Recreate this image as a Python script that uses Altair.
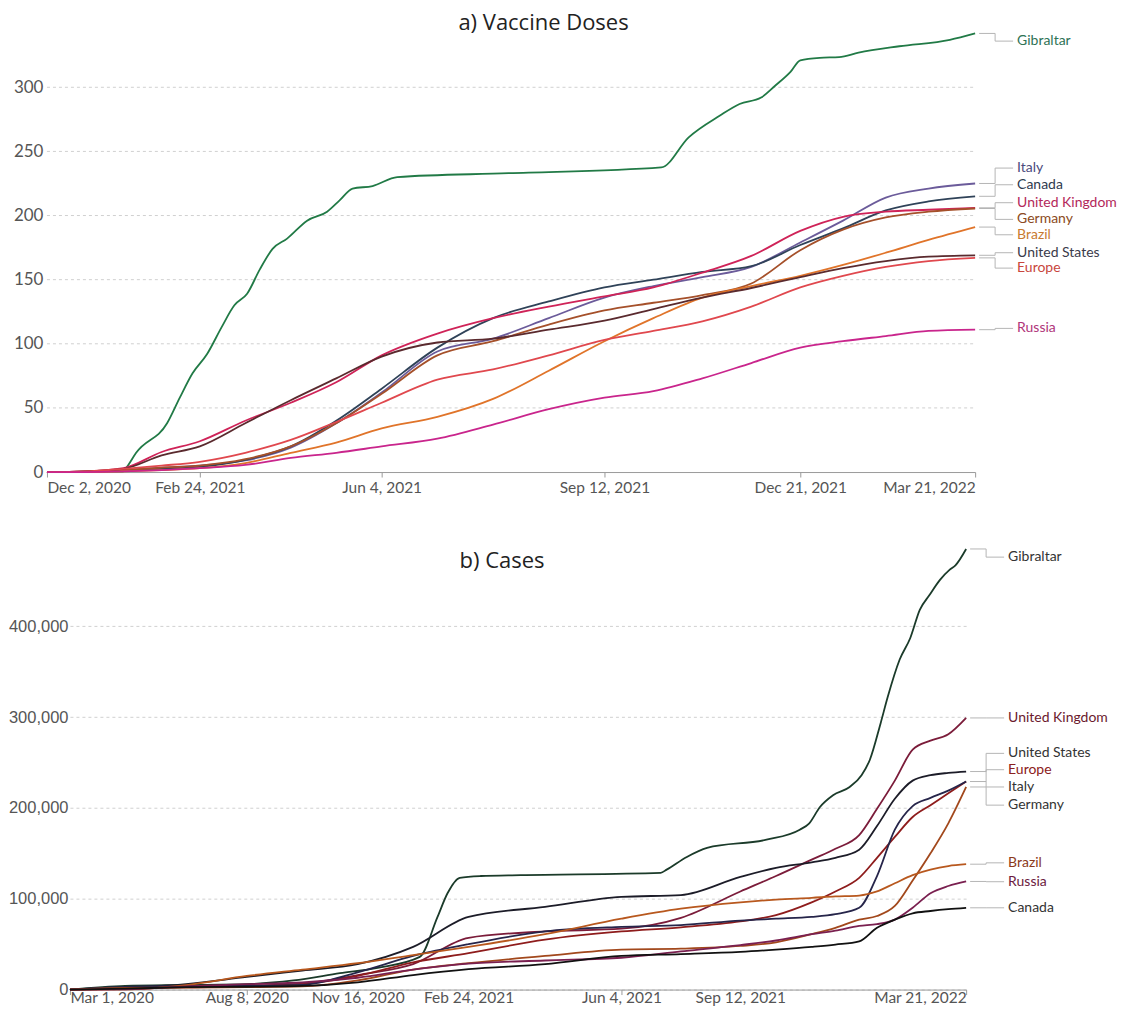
import altair as alt
import pandas as pd

# ---------------- a) Vaccine doses (per 100 people) ----------------
vax_ticks = ["2020-12-02", "2021-02-24", "2021-06-04", "2021-09-12", "2021-12-21", "2022-03-21"]
vax_y_ticks = [0, 50, 100, 150, 200, 250, 300]
vax_y_max = 342

vax_dates = ["2020-12-02", "2020-12-23", "2021-01-13", "2021-02-03", "2021-02-24", "2021-03-21",
             "2021-04-15", "2021-05-10", "2021-06-04", "2021-06-29", "2021-07-24", "2021-08-18",
             "2021-09-12", "2021-10-07", "2021-11-01", "2021-11-26", "2021-12-21", "2022-01-12",
             "2022-02-03", "2022-02-25", "2022-03-21"]
vax_italy = [0, 0, 1.5, 3.5, 5, 9, 19, 38, 62, 94, 104, 120, 136, 145, 152, 160, 179, 196, 214, 221, 225]
vax_canada = [0, 0.2, 1.2, 2.5, 4, 9.5, 20, 40, 65, 97, 120, 133, 144, 150, 156, 160.5, 177, 190, 204, 211, 215]
vax_uk = [0, 0.5, 3, 15.6, 24, 40, 54, 70, 91, 108, 120, 129, 137, 144, 155.5, 168.5, 188, 199, 203, 204.5, 206]
vax_germany = [0, 0.3, 1.5, 3.5, 5, 10, 20, 38, 61, 91, 102, 115, 126, 132, 138, 147, 173, 189, 198.5, 203, 205.5]
vax_brazil = [0, 0, 0.5, 1.5, 3, 7, 15, 23, 34, 43, 57, 79, 102, 120, 136, 145, 153, 161.5, 171, 181, 191]
vax_us = [0, 0.5, 2.5, 13, 20, 38, 56, 73, 90, 101, 104, 111, 118, 127, 136, 143.5, 152, 159, 164.5, 168, 169]
vax_europe = [0, 0.5, 2.5, 5, 8, 15, 25, 39, 54, 72, 80, 91, 103, 110, 117.5, 129, 144, 153, 160, 164.5, 167]
vax_russia = [0, 0, 0.5, 1.5, 3, 5.5, 11, 15, 20, 26, 37, 49, 58, 63, 73, 85, 97, 102, 106, 110, 111]

gib_vax_dates = ["2020-12-02", "2021-01-13", "2021-01-15", "2021-01-20", "2021-02-06", "2021-02-13",
                 "2021-02-20", "2021-02-28", "2021-03-08", "2021-03-15", "2021-03-22", "2021-03-29",
                 "2021-04-05", "2021-04-13", "2021-04-24", "2021-05-05", "2021-05-12", "2021-05-19",
                 "2021-05-30", "2021-06-11", "2021-07-31", "2021-10-11", "2021-10-25", "2021-11-10",
                 "2021-11-20", "2021-12-01", "2021-12-08", "2021-12-16", "2021-12-21", "2021-12-31",
                 "2022-01-10", "2022-01-20", "2022-02-10", "2022-03-08", "2022-03-21"]
gib_vax = [0, 0.5, 4, 15, 38, 58, 77, 92, 113, 130, 139, 158, 174, 182, 196, 203, 212, 221, 223, 230,
           233, 237.5, 261, 278, 287, 292, 301, 312, 321, 323, 323.5, 327, 332, 337, 342]

# ---------------- b) Cases (per million, values in thousands) ----------------
case_ticks = ["2020-03-01", "2020-08-08", "2020-11-16", "2021-02-24", "2021-06-04", "2021-09-12", "2022-03-21"]
case_y_ticks = [0, 100000, 200000, 300000, 400000]
case_y_max = 485000

case_dates = ["2020-03-01", "2020-04-20", "2020-06-14", "2020-08-08", "2020-09-27", "2020-11-16",
              "2021-01-05", "2021-02-24", "2021-04-15", "2021-06-04", "2021-07-24", "2021-09-12",
              "2021-10-12", "2021-11-11", "2021-12-01", "2021-12-21", "2022-01-05", "2022-01-20",
              "2022-02-04", "2022-02-19", "2022-03-06", "2022-03-21"]
case_uk = [0, 1.8, 4, 4.5, 6.5, 16, 28, 57, 64, 67, 79, 108, 125, 143, 155, 170, 199, 230, 264, 274, 281, 299]
case_us = [0, 2, 6, 14, 21, 28, 47, 80, 91, 102, 104, 124, 134, 140, 145, 154, 180, 210, 230, 236, 238.5, 240]
case_europe = [0, 1.3, 2.5, 3.5, 6, 15, 30, 40, 55, 64, 68.5, 75, 82, 96, 108, 123, 145, 168, 190, 203, 216, 229]
case_italy = [0.03, 3, 3.9, 4.1, 5.2, 19, 37, 50, 64, 69, 71, 76, 78, 80, 83, 90, 125, 176, 202, 211, 219, 229]
case_germany = [0, 1.7, 2.2, 2.6, 3.4, 10, 22, 29, 37, 44, 45, 48, 52, 61, 68, 77, 81, 92, 120, 150, 183, 223]
case_brazil = [0, 0.2, 5, 15, 22, 29, 38, 47, 61, 78, 89, 96, 99, 101, 102.5, 103.5, 108, 117, 126, 132, 136, 138]
case_russia = [0, 0.3, 3.6, 6, 7.8, 13, 22, 28.5, 32, 35, 42, 49, 54, 61, 65, 70, 72, 77, 90, 106, 114, 119]
case_canada = [0, 1, 2.6, 3.1, 4, 8, 16, 22.5, 28, 37, 39, 41.5, 44, 47, 49.5, 53, 68, 77, 84, 86.5, 88.5, 90]

gib_case_dates = ["2020-03-01", "2020-04-20", "2020-06-13", "2020-08-08", "2020-09-19", "2020-10-31",
                  "2020-12-04", "2021-01-11", "2021-01-27", "2021-02-05", "2021-02-16", "2021-03-04",
                  "2021-03-30", "2021-07-07", "2021-07-12", "2021-07-29", "2021-08-15", "2021-10-04",
                  "2021-11-01", "2021-11-09", "2021-11-18", "2021-11-29", "2021-12-13", "2021-12-23",
                  "2021-12-30", "2022-01-08", "2022-01-14", "2022-01-24", "2022-02-02", "2022-02-10",
                  "2022-02-18", "2022-02-27", "2022-03-07", "2022-03-12", "2022-03-21"]
gib_case = [0, 4, 5, 6, 10, 18, 24, 36, 80, 106, 123, 125, 126, 128.5, 132, 146, 156, 165, 176, 183,
            201, 214, 223, 236, 253, 293, 322, 363, 387, 418, 434, 451, 462, 467, 485]

# ---------------- layout / style (not data) ----------------
# piecewise pixel positions of the date ticks (the reference's time axes are not uniform);
# the top panel starts 23px left of the shared plot origin.
VAX_TICK_POS = [-23, 130, 312, 535, 731, 906]
CASE_TICK_POS = [0, 177, 288, 399, 552, 671, 897]

vax_label_y = {"Gibraltar": 336, "Italy": 237, "Canada": 224, "United Kingdom": 210, "Germany": 197,
               "Brazil": 185, "United States": 171, "Europe": 159, "Russia": 112}
case_label_y = {"Gibraltar": 476000, "United Kingdom": 299000, "United States": 260000, "Europe": 242000,
                "Italy": 223000, "Germany": 203000, "Brazil": 139500, "Russia": 118700, "Canada": 90000}

vax_line_colors = {"Gibraltar": "#217a46", "Italy": "#6b5b9a", "Canada": "#2f4258", "United Kingdom": "#cf2358",
                   "Germany": "#a5502a", "Brazil": "#e0742a", "United States": "#5a2a2e", "Europe": "#e0484e",
                   "Russia": "#c9258c"}
vax_label_colors = {"Gibraltar": "#2e7255", "Italy": "#4b4a7c", "Canada": "#2e3a4e", "United Kingdom": "#b3285a",
                    "Germany": "#8b4a22", "Brazil": "#c87a30", "United States": "#3a3a4a", "Europe": "#c8463d",
                    "Russia": "#b0357a"}
case_line_colors = {"Gibraltar": "#1b3b2a", "United Kingdom": "#7b1c3a", "United States": "#1c1c28",
                    "Europe": "#8e1c1c", "Italy": "#26254a", "Germany": "#a2481c", "Brazil": "#b8581e",
                    "Russia": "#7a2050", "Canada": "#111111"}
case_label_colors = {"Gibraltar": "#333333", "United Kingdom": "#6b1a2e", "United States": "#333333",
                     "Europe": "#8b2020", "Italy": "#333333", "Germany": "#333333", "Brazil": "#8b3a1a",
                     "Russia": "#6b1a40", "Canada": "#333333"}

vax_series = {
    "Gibraltar": (gib_vax_dates, gib_vax),
    "Italy": (vax_dates, vax_italy),
    "Canada": (vax_dates, vax_canada),
    "United Kingdom": (vax_dates, vax_uk),
    "Germany": (vax_dates, vax_germany),
    "Brazil": (vax_dates, vax_brazil),
    "United States": (vax_dates, vax_us),
    "Europe": (vax_dates, vax_europe),
    "Russia": (vax_dates, vax_russia),
}
case_series = {
    "Gibraltar": (gib_case_dates, [v * 1000 for v in gib_case]),
    "United Kingdom": (case_dates, [v * 1000 for v in case_uk]),
    "United States": (case_dates, [v * 1000 for v in case_us]),
    "Europe": (case_dates, [v * 1000 for v in case_europe]),
    "Italy": (case_dates, [v * 1000 for v in case_italy]),
    "Germany": (case_dates, [v * 1000 for v in case_germany]),
    "Brazil": (case_dates, [v * 1000 for v in case_brazil]),
    "Russia": (case_dates, [v * 1000 for v in case_russia]),
    "Canada": (case_dates, [v * 1000 for v in case_canada]),
}

FONT = "Lato"
CONNECTOR = "#b5b5b5"
GRID = "#d0d0d0"


def to_ms(d):
    return int(pd.Timestamp(d, tz="UTC").value // 10**6)


def make_panel(title, series, label_y, line_colors, label_colors, ticks, tick_pos,
               y_ticks, y_max, width, height, y_axis_style, x_label_pad, own_grid):
    order = list(series.keys())
    rows = []
    for name in order:
        dates, vals = series[name]
        for d, v in zip(dates, vals):
            rows.append({"name": name, "t": to_ms(d), "value": v})
    df = pd.DataFrame(rows)
    ends = []
    for name in order:
        dates, vals = series[name]
        ends.append({"name": name, "t": to_ms(dates[-1]), "value": vals[-1],
                     "label_y": label_y[name], "lcolor": label_colors[name]})
    ends_df = pd.DataFrame(ends)

    tick_ms = [to_ms(t) for t in ticks]
    x_scale = alt.Scale(type="linear", domain=tick_ms, range=tick_pos, nice=False, zero=False)
    y_scale = alt.Scale(domain=[0, y_max], nice=False, zero=True)

    x_axis = alt.Axis(values=tick_ms, labelExpr="utcFormat(datum.value, '%b %-d, %Y')",
                      labelFlush=True, grid=False, domainColor="#9a9a9a", tickColor="#9a9a9a",
                      tickSize=5, labelPadding=x_label_pad, labelFont=FONT, labelFontSize=15.5,
                      labelColor="#555555", labelOverlap=False)
    y_axis = alt.Axis(values=y_ticks, labelExpr="format(datum.value, ',')", domain=False,
                      ticks=False, grid=not own_grid, gridDash=[3, 3], gridColor=GRID,
                      labelColor="#555555", **y_axis_style)

    layers = []
    if own_grid:
        # dashed gridlines drawn across the whole (shifted) x range
        grid_df = pd.DataFrame({"v": [v for v in y_ticks if v > 0]})
        grid_df["t0"] = tick_ms[0]
        grid_df["t1"] = tick_ms[-1]
        layers.append(alt.Chart(grid_df).mark_rule(color=GRID, strokeWidth=1, strokeDash=[3, 3]).encode(
            x=alt.X("t0:Q", title=None, scale=x_scale, axis=x_axis), x2="t1:Q",
            y=alt.Y("v:Q", title=None, scale=y_scale, axis=y_axis)))

    lines = alt.Chart(df).mark_line(strokeWidth=1.8, interpolate="monotone").encode(
        x=alt.X("t:Q", title=None, scale=x_scale, axis=x_axis),
        y=alt.Y("value:Q", title=None, scale=y_scale, axis=y_axis),
        stroke=alt.Stroke("name:N", scale=alt.Scale(domain=order, range=[line_colors[n] for n in order]),
                          legend=None),
        detail="name:N",
    )
    layers.append(lines)
    base = alt.Chart(ends_df)
    xs = alt.X("t:Q", title=None, scale=x_scale, axis=x_axis)
    layers.append(base.mark_rule(color=CONNECTOR, strokeWidth=1, xOffset=4, x2Offset=20).encode(
        x=xs, x2="t:Q", y=alt.Y("value:Q", title=None, scale=y_scale, axis=y_axis)))
    layers.append(base.mark_rule(color=CONNECTOR, strokeWidth=1, xOffset=20).encode(
        x=xs, y=alt.Y("value:Q", title=None, scale=y_scale, axis=y_axis), y2="label_y:Q"))
    layers.append(base.mark_rule(color=CONNECTOR, strokeWidth=1, xOffset=20, x2Offset=38).encode(
        x=xs, x2="t:Q", y=alt.Y("label_y:Q", title=None, scale=y_scale, axis=y_axis)))
    layers.append(base.mark_text(align="left", baseline="middle", dx=42, font=FONT, fontSize=14).encode(
        x=xs, y=alt.Y("label_y:Q", title=None, scale=y_scale, axis=y_axis), text="name:N",
        fill=alt.Fill("lcolor:N", scale=None)))

    return alt.layer(*layers).properties(width=width, height=height, title=title)


top = make_panel(
    alt.TitleParams("a) Vaccine Doses", font="Open Sans", fontSize=22, fontWeight="normal",
                    color="#222222", anchor="middle", frame="group", offset=-5, dx=21),
    vax_series, vax_label_y, vax_line_colors, vax_label_colors, vax_ticks, VAX_TICK_POS,
    vax_y_ticks, vax_y_max, 906, 439,
    dict(offset=23, labelPadding=4, labelFont=FONT, labelFontSize=17),
    3, True)

bottom = make_panel(
    alt.TitleParams("b) Cases", font="Open Sans", fontSize=22, fontWeight="normal",
                    color="#222222", anchor="middle", frame="group", offset=-28, dx=-16),
    case_series, case_label_y, case_line_colors, case_label_colors, case_ticks, CASE_TICK_POS,
    case_y_ticks, case_y_max, 897, 441,
    dict(labelPadding=2, labelFont="Liberation Sans", labelFontSize=16.5),
    -4, False)

chart = alt.vconcat(top, bottom, spacing=49).resolve_scale(
    x="independent", y="independent", stroke="independent"
).properties(
    padding={"left": 0, "top": 3, "right": 0, "bottom": 0}
).configure_view(stroke=None)

chart.save("out.html", embed_options={"renderer": "svg", "actions": False})
